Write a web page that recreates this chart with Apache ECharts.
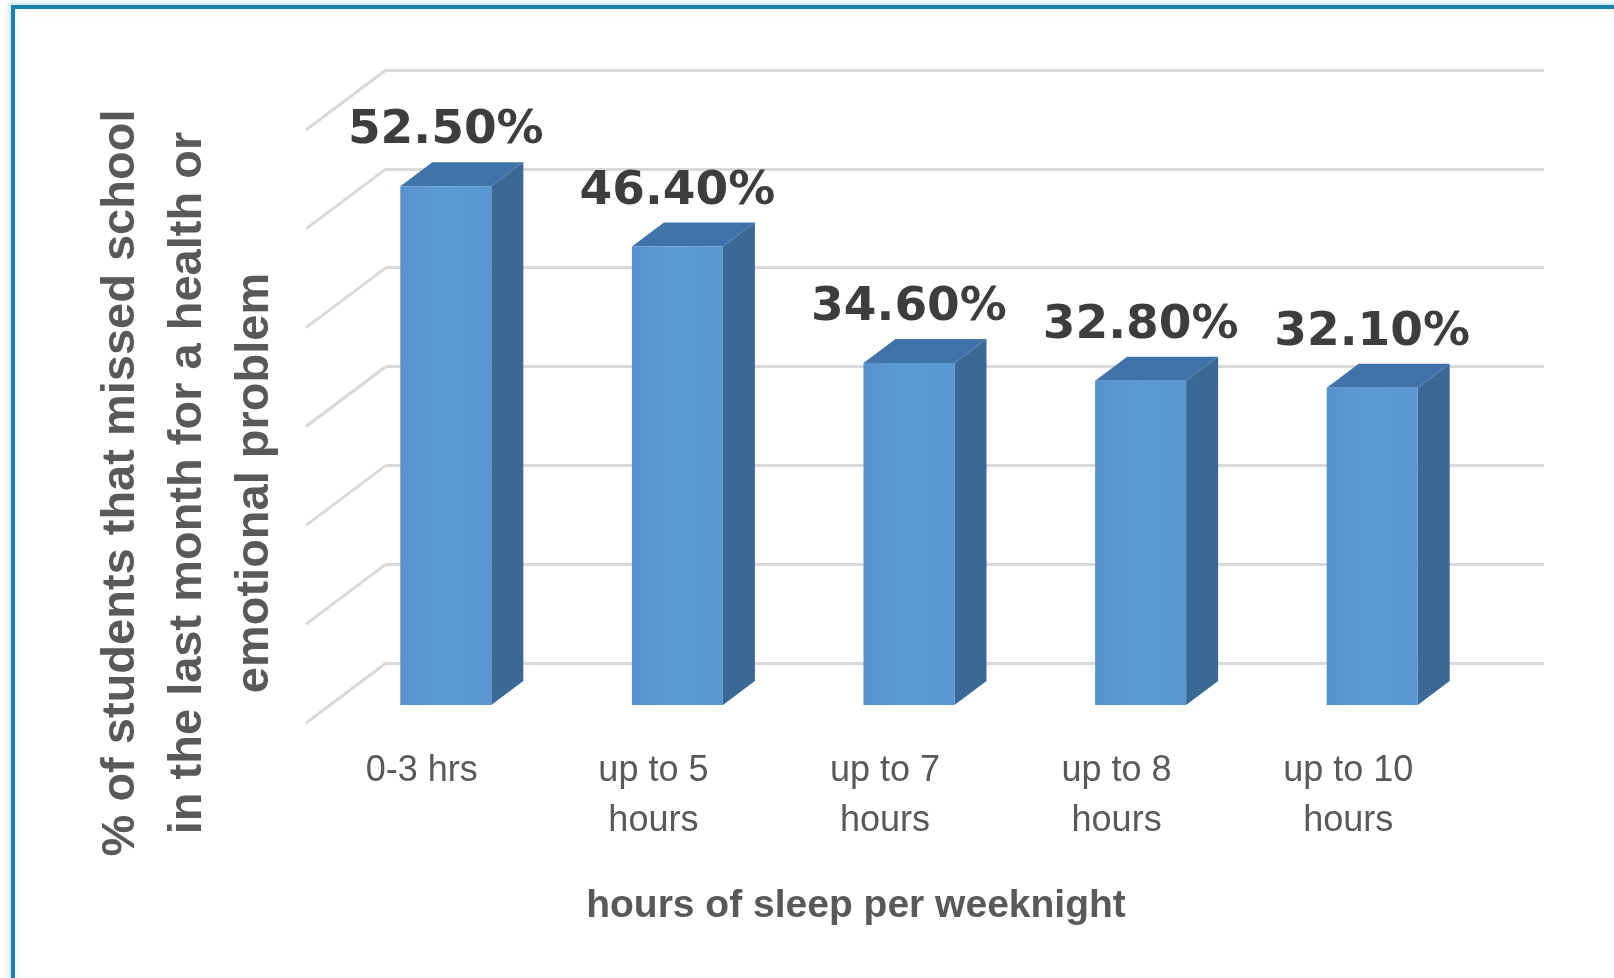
<!DOCTYPE html>
<html>
<head>
<meta charset="utf-8">
<title>missed school vs sleep</title>
<script src="https://cdn.jsdelivr.net/npm/echarts@6/dist/echarts.min.js"></script>
<style>
  html, body { margin: 0; padding: 0; background: #fff; overflow: hidden; }
  #chart { position: absolute; left: 0; top: 0; width: 1614px; height: 978px; }
  .frame {
    position: absolute; left: 11px; top: 5px; width: 1620px; height: 990px;
    border-left: 4px solid #1a80b0; border-top: 4px solid #1a80b0;
    box-shadow: -2px -2px 5px rgba(26, 128, 176, 0.25), inset 3px 3px 8px rgba(0, 0, 0, 0.05);
    pointer-events: none;
  }
</style>
</head>
<body>
<div id="chart"></div>
<div class="frame"></div>
<script>
// data
const categories = ['0-3 hrs', 'up to 5 hours', 'up to 7 hours', 'up to 8 hours', 'up to 10 hours']
const missedPct = [52.5, 46.4, 34.6, 32.8, 32.1]
const yTicks = [0, 10, 20, 30, 40, 50, 60]
const yTitle = ['% of students that missed school', 'in the last month for a health or', 'emotional problem']
const xTitle = 'hours of sleep per weeknight'

// fake 3d: how far the floor comes forward (px), bars sit in the middle of it
const DX = 80
const DY = 60
const barBack = 0.3
const barFront = 0.7

let myChart = echarts.init(document.getElementById('chart'))

// left wall lines going from back wall to the front
function renderWall (params, api) {
  let v = api.value(1)
  let p = api.coord([0, v])
  let half = api.size([1, 0])[0] / 2
  let x0 = p[0] - half
  return {
    type: 'line',
    shape: { x1: x0, y1: p[1], x2: x0 - DX, y2: p[1] + DY },
    style: { stroke: '#d9d9d9', lineWidth: 3 }
  }
}

function renderBar (params, api) {
  let i = api.value(0)
  let v = api.value(1)
  let top = api.coord([i, v])
  let base = api.coord([i, 0])
  let w = api.size([1, 0])[0] * 0.393
  let cx = top[0]
  // front face and back face offsets
  let fx = -DX * barFront
  let fy = DY * barFront
  let bx = -DX * barBack
  let by = DY * barBack
  let l = cx - w / 2
  let r = cx + w / 2
  return {
    type: 'group',
    children: [
      {
        type: 'polygon',
        shape: { points: [[r + fx, top[1] + fy], [r + bx, top[1] + by], [r + bx, base[1] + by], [r + fx, base[1] + fy]] },
        style: { fill: '#3a6996' }
      },
      {
        type: 'polygon',
        shape: { points: [[l + fx, top[1] + fy], [r + fx, top[1] + fy], [r + bx, top[1] + by], [l + bx, top[1] + by]] },
        style: { fill: '#4073aa' }
      },
      {
        type: 'rect',
        shape: { x: l + fx, y: top[1] + fy, width: w, height: base[1] - top[1] },
        style: {
          fill: new echarts.graphic.LinearGradient(0, 0, 1, 0, [
            { offset: 0, color: '#5692cd' },
            { offset: 0.45, color: '#5c9cd6' },
            { offset: 1, color: '#5897d2' }
          ])
        }
      },
      {
        type: 'text',
        style: {
          text: v.toFixed(2) + '%',
          x: cx + fx,
          y: top[1] + by - 31,
          align: 'center',
          verticalAlign: 'middle',
          font: 'bold 47px "DejaVu Sans"',
          fill: '#3d3d3d'
        }
      }
    ]
  }
}

myChart.setOption({
  animation: false,
  grid: {
    left: 386,
    right: 70,
    top: 70,
    bottom: 315
  },
  xAxis: {
    type: 'category',
    data: categories,
    axisLine: { show: false },
    axisTick: { show: false },
    axisLabel: {
      interval: 0,
      margin: 83,
      color: '#595959',
      fontSize: 36,
      fontFamily: 'Liberation Sans',
      lineHeight: 50,
      // labels sit at the front edge of the floor
      padding: [0, DX * 2, 0, 0],
      formatter: (val) => val.replace(' hours', '\nhours')
    }
  },
  yAxis: {
    type: 'value',
    min: 0,
    max: 60,
    interval: 10,
    axisLine: { show: false },
    axisTick: { show: false },
    axisLabel: { show: false },
    splitLine: { lineStyle: { color: '#d9d9d9', width: 3 } }
  },
  graphic: [
    {
      type: 'text',
      x: 188,
      y: 483,
      rotation: Math.PI / 2,
      style: {
        text: yTitle.join('\n'),
        x: 0,
        y: 0,
        align: 'center',
        verticalAlign: 'middle',
        textAlign: 'center',
        textVerticalAlign: 'middle',
        font: 'bold 47px "Liberation Sans"',
        lineHeight: 67,
        fill: '#595959'
      }
    },
    {
      type: 'text',
      x: 856,
      y: 906,
      style: {
        text: xTitle,
        x: 0,
        y: 0,
        align: 'center',
        verticalAlign: 'middle',
        textAlign: 'center',
        textVerticalAlign: 'middle',
        font: 'bold 39px "Liberation Sans"',
        fill: '#595959'
      }
    }
  ],
  series: [
    {
      type: 'custom',
      renderItem: renderWall,
      clip: false,
      silent: true,
      data: yTicks.map(v => [0, v])
    },
    {
      type: 'custom',
      renderItem: renderBar,
      clip: false,
      data: missedPct.map((v, i) => [i, v])
    }
  ]
})
</script>
</body>
</html>
